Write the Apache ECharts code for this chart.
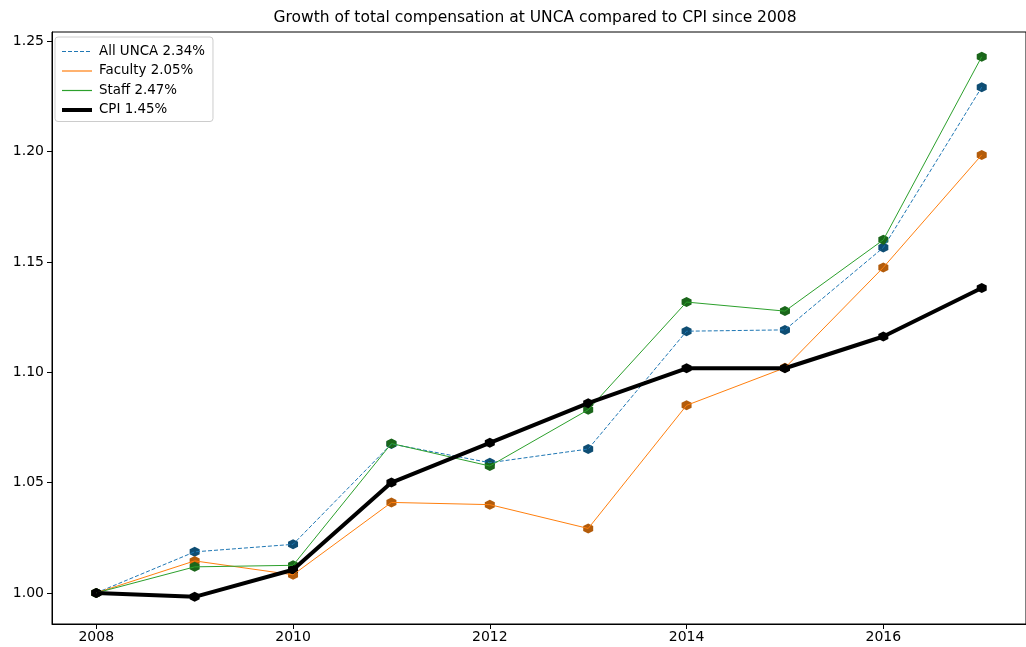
<!DOCTYPE html>
<html>
<head>
<meta charset="utf-8">
<script src="https://cdn.jsdelivr.net/npm/echarts@6/dist/echarts.min.js"></script>
<style>
  html, body { margin: 0; padding: 0; background: #fff; }
  #chart { width: 1026px; height: 647px; }
</style>
</head>
<body>
<div id="chart"></div>
<script>
// ---- data ----
const years = [2008, 2009, 2010, 2011, 2012, 2013, 2014, 2015, 2016, 2017];
const allUnca = [1.000, 1.0186, 1.0220, 1.0675, 1.0590, 1.0652, 1.1186, 1.1192, 1.1565, 1.2292];
const faculty = [1.000, 1.0145, 1.0082, 1.0410, 1.0400, 1.0292, 1.0850, 1.1020, 1.1475, 1.1985];
const staff   = [1.000, 1.0118, 1.0125, 1.0677, 1.0575, 1.0830, 1.1318, 1.1277, 1.1600, 1.2430];
const cpi     = [1.000, 0.9982, 1.0105, 1.0500, 1.0680, 1.0860, 1.1018, 1.1018, 1.1162, 1.1382];
const seriesNames = ['All UNCA 2.34%', 'Faculty 2.05%', 'Staff 2.47%', 'CPI 1.45%'];
const xTicks = [2008, 2010, 2012, 2014, 2016];
const yTicks = [1.00, 1.05, 1.10, 1.15, 1.20, 1.25];

const pair = arr => years.map((y, i) => [y, arr[i]]);
const hex = 'path://M0,-1 L0.866,-0.5 L0.866,0.5 L0,1 L-0.866,0.5 L-0.866,-0.5 Z';
const FONT = 'DejaVu Sans';

const solidIcon = 'path://M0,0 M30,10 M0,4.4 H30 V5.6 H0 Z';
const thickIcon = 'path://M0,0 M30,10 M0,3 H30 V7 H0 Z';
const dashIcon = 'path://M0,0 M30,10 M0,4.4 H4 V5.6 H0 Z M6,4.4 H10 V5.6 H6 Z M12,4.4 H16 V5.6 H12 Z M18,4.4 H22 V5.6 H18 Z M24,4.4 H28 V5.6 H24 Z';

function lineAndMarkers(name, data, lineColor, markerColor, width, type, size) {
  return [{
    name: name,
    type: 'line',
    data: pair(data),
    symbol: 'none',
    itemStyle: { color: lineColor },
    lineStyle: { color: lineColor, width: width, type: type },
    emphasis: { disabled: true },
    animation: false
  }, {
    name: name + ' markers',
    type: 'scatter',
    data: pair(data),
    symbol: hex,
    symbolSize: size,
    itemStyle: { color: markerColor, borderWidth: 0, opacity: 1 },
    emphasis: { disabled: true },
    animation: false
  }];
}

const chart = echarts.init(document.getElementById('chart'), null, { renderer: 'canvas' });
chart.setOption({
  backgroundColor: '#ffffff',
  animation: false,
  title: {
    text: 'Growth of total compensation at UNCA compared to CPI since 2008',
    left: 535,
    top: 10,
    padding: 0,
    textAlign: 'center',
    textStyle: { fontFamily: FONT, fontSize: 15.5, fontWeight: 'normal', color: '#000' }
  },
  legend: {
    orient: 'vertical',
    left: 55,
    top: 37,
    padding: [8, 8, 5, 7],
    itemWidth: 30,
    itemHeight: 10,
    itemGap: 6.5,
    borderColor: '#cccccc',
    borderWidth: 1,
    borderRadius: 3,
    backgroundColor: 'rgba(255,255,255,0.8)',
    textStyle: { fontFamily: FONT, fontSize: 13.4, color: '#000', padding: [0, 0, 0, 2] },
    data: [
      { name: seriesNames[0], icon: dashIcon },
      { name: seriesNames[1], icon: solidIcon },
      { name: seriesNames[2], icon: solidIcon },
      { name: seriesNames[3], icon: thickIcon }
    ],
    selectedMode: false
  },
  grid: {
    left: 52, top: 32, right: -6, bottom: 23,
    show: true, borderColor: '#000', borderWidth: 1, backgroundColor: 'transparent'
  },
  xAxis: {
    type: 'value',
    min: 2007.55,
    max: 2017.45,
    splitLine: { show: false },
    axisLine: { show: true, lineStyle: { color: '#000', width: 1 } },
    axisTick: { show: true, length: 5, inside: false, customValues: xTicks, lineStyle: { color: '#000' } },
    axisLabel: { customValues: xTicks, margin: 6, fontFamily: FONT, fontSize: 14, color: '#000', formatter: v => String(v) }
  },
  yAxis: {
    type: 'value',
    min: 0.9859,
    max: 1.2542,
    splitLine: { show: false },
    axisLine: { show: true, lineStyle: { color: '#000', width: 1 } },
    axisTick: { show: true, length: 5, inside: false, customValues: yTicks, lineStyle: { color: '#000' } },
    axisLabel: { customValues: yTicks, margin: 8, fontFamily: FONT, fontSize: 14, color: '#000', formatter: v => v.toFixed(2) }
  },
  series: [].concat(
    lineAndMarkers(seriesNames[0], allUnca, '#1f77b4', '#0e4d73', 1, [4, 2], 10),
    lineAndMarkers(seriesNames[1], faculty, '#ff7f0e', '#b35c0b', 1, 'solid', 10),
    lineAndMarkers(seriesNames[2], staff, '#2ca02c', '#1a661a', 1, 'solid', 10),
    lineAndMarkers(seriesNames[3], cpi, '#000000', '#000000', 4, 'solid', 10)
  )
});
</script>
</body>
</html>
